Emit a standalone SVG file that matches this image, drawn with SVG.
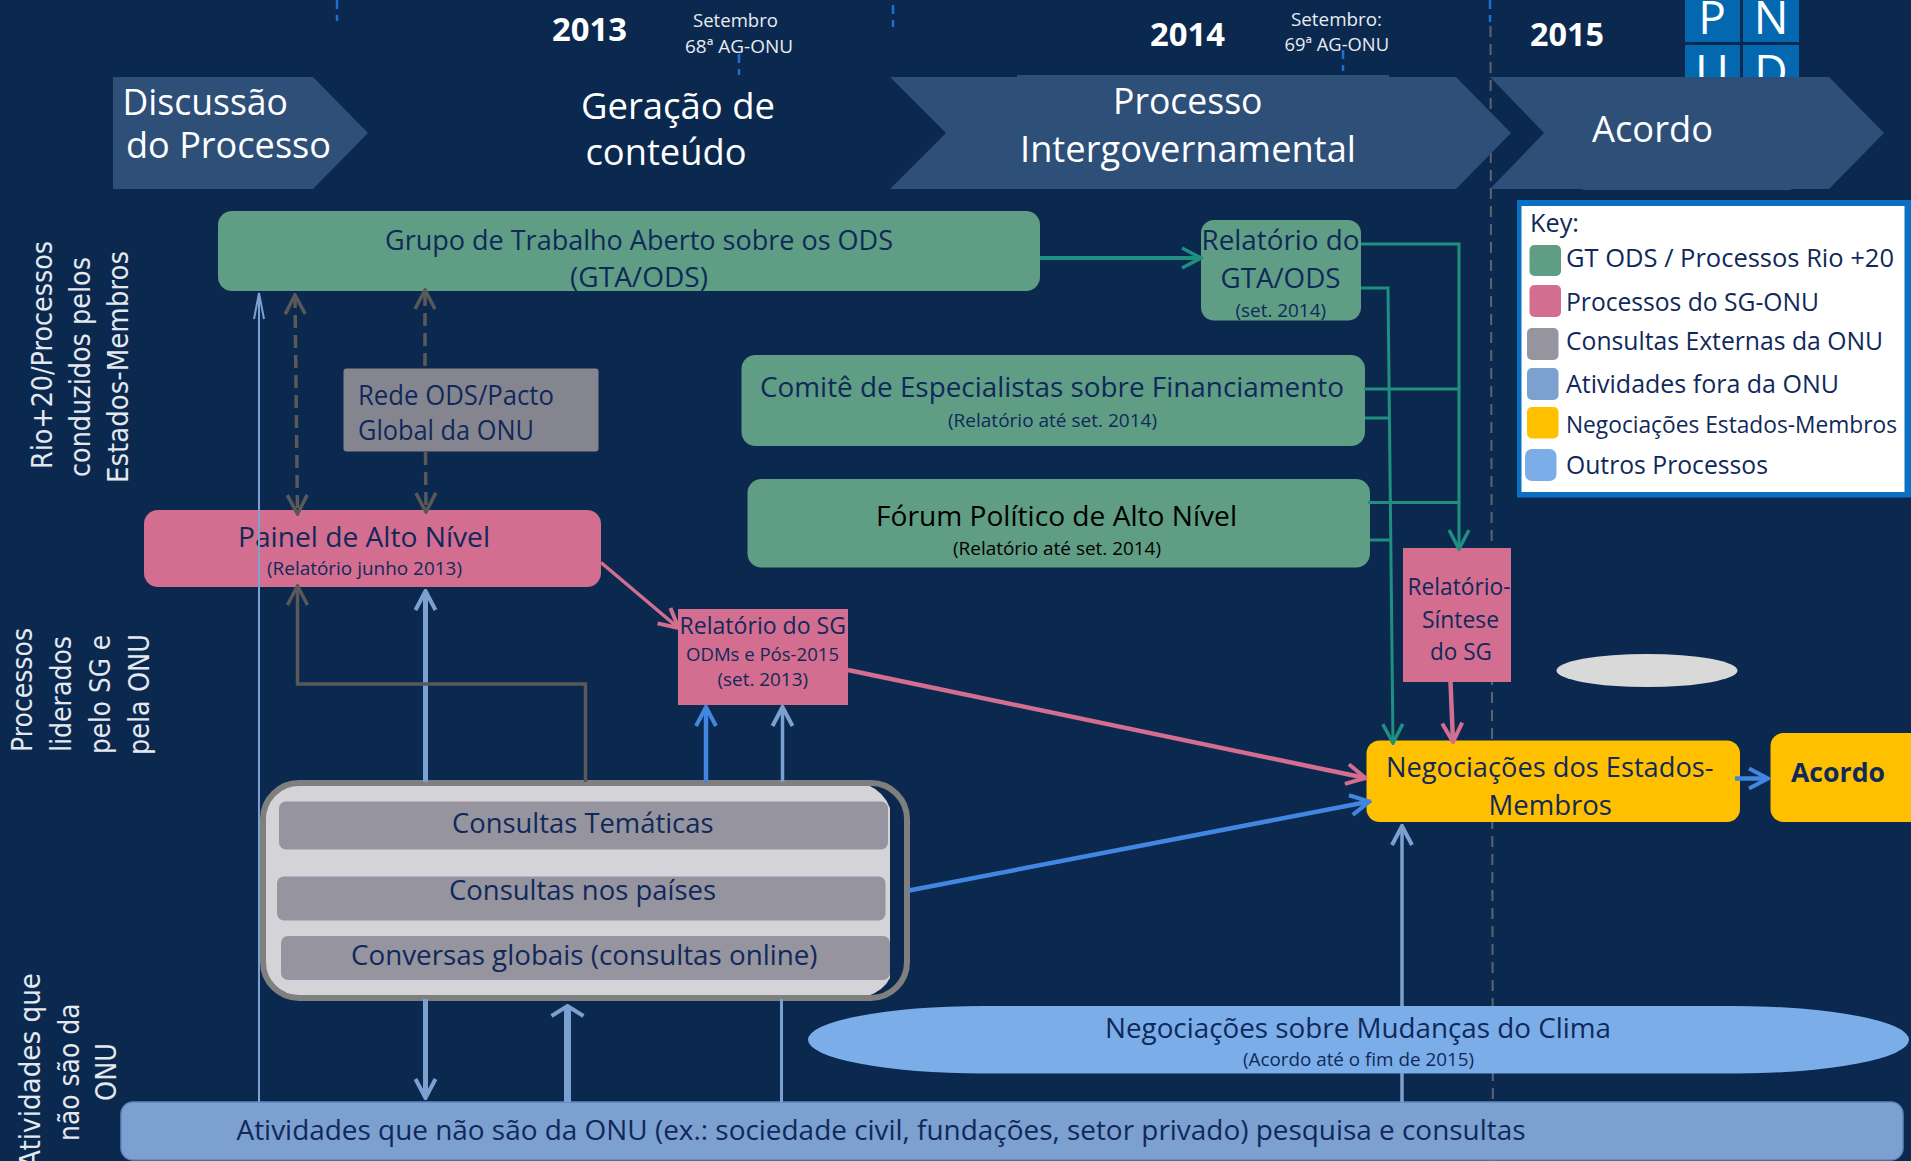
<svg xmlns="http://www.w3.org/2000/svg" width="1911" height="1161" viewBox="0 0 1911 1161">
<defs>
<style>
text{font-family:"Open Sans","Noto Sans",sans-serif;fill:#10295a}
.w{fill:#fff}.b{font-weight:700}.k{fill:#000}
.c{font-size:36px}.y{font-size:32px}.s{font-size:19px;fill:#e8ecf2}
.m{font-size:28px}.n{font-size:27px}.f{font-size:19px}.t{font-size:18px}
.v{font-family:"DejaVu Sans",sans-serif;font-size:29px;fill:#e4e8ef}
.leg{font-size:26px}
.gr{fill:#5f9d84}.pk{fill:#d36e90}.gy{fill:#95949f}.bl{fill:#7ca0cf}.ye{fill:#ffc000}.lb{fill:#7bade9}.ch{fill:#2e4f78}
.lnk{fill:none}
.teal{stroke:#1f8f7f;stroke-width:3}
.pink{stroke:#d36e90;stroke-width:4.5}
.blue{stroke:#4186e0;stroke-width:4.5}
.sl{stroke:#7ca0cf;stroke-width:5}
.dk{stroke:#595959;stroke-width:3.5}
.da{stroke-dasharray:13 7}
</style>
<marker id="aT" markerUnits="userSpaceOnUse" viewBox="0 0 24 24" refX="22" refY="12" markerWidth="24" markerHeight="24" orient="auto-start-reverse"><path d="M3 2L22 12L3 22" fill="none" stroke="#1f8f7f" stroke-width="3.5"/></marker>
<marker id="aP" markerUnits="userSpaceOnUse" viewBox="0 0 24 24" refX="22" refY="12" markerWidth="24" markerHeight="24" orient="auto-start-reverse"><path d="M3 2L22 12L3 22" fill="none" stroke="#d36e90" stroke-width="4"/></marker>
<marker id="aB" markerUnits="userSpaceOnUse" viewBox="0 0 24 24" refX="22" refY="12" markerWidth="24" markerHeight="24" orient="auto-start-reverse"><path d="M3 2L22 12L3 22" fill="none" stroke="#4186e0" stroke-width="4"/></marker>
<marker id="aS" markerUnits="userSpaceOnUse" viewBox="0 0 24 24" refX="22" refY="12" markerWidth="24" markerHeight="24" orient="auto-start-reverse"><path d="M3 2L22 12L3 22" fill="none" stroke="#7ca0cf" stroke-width="4"/></marker>
<marker id="aD" markerUnits="userSpaceOnUse" viewBox="0 0 24 24" refX="22" refY="12" markerWidth="24" markerHeight="24" orient="auto-start-reverse"><path d="M3 2L22 12L3 22" fill="none" stroke="#595959" stroke-width="3.5"/></marker>
<marker id="aW" markerUnits="userSpaceOnUse" viewBox="0 0 16 36" refX="14" refY="18" markerWidth="16" markerHeight="36" orient="auto"><path d="M4 2L14 18L4 34" fill="none" stroke="#7ca0cf" stroke-width="4"/></marker>
<marker id="aN" markerUnits="userSpaceOnUse" viewBox="0 0 30 12" refX="28" refY="6" markerWidth="30" markerHeight="12" orient="auto"><path d="M2 1L28 6L2 11" fill="none" stroke="#7ca0cf" stroke-width="2"/></marker>
</defs>

<rect width="1911" height="1161" fill="#0b294f"/>

<g id="timeline" fill="none">
<path d="M337 0V21M893 5V27M739 54V75M1343 50V71M1490 0V22" stroke="#1f6fd0" stroke-width="2.5" stroke-dasharray="9 6"/>
<path d="M1490.500 26L1493 1161" stroke="#5c6470" stroke-width="2" stroke-dasharray="11 7"/>
</g>

<g id="logo">
<rect x="1685" y="-10" width="55" height="52" fill="#0468b1"/><rect x="1743" y="-10" width="56" height="52" fill="#0468b1"/>
<rect x="1685" y="45" width="55" height="40" fill="#0468b1"/><rect x="1743" y="45" width="56" height="40" fill="#0468b1"/>
<text x="1712" y="34" text-anchor="middle" class="w" font-size="46">P</text><text x="1771" y="34" text-anchor="middle" class="w" font-size="46">N</text>
<text x="1712" y="88" text-anchor="middle" class="w" font-size="46">U</text><text x="1771" y="88" text-anchor="middle" class="w" font-size="46">D</text>
</g>

<g id="headers">
<text x="552" y="41" class="b y w" textLength="75" lengthAdjust="spacingAndGlyphs">2013</text>
<text x="1150" y="46" class="b y w" textLength="75" lengthAdjust="spacingAndGlyphs">2014</text>
<text x="1530" y="46" class="b y w" textLength="74" lengthAdjust="spacingAndGlyphs">2015</text>
<text x="693" y="27" class="s" textLength="85" lengthAdjust="spacingAndGlyphs">Setembro</text>
<text x="685" y="53" class="s" textLength="108" lengthAdjust="spacingAndGlyphs">68ª AG-ONU</text>
<text x="1291" y="25.500" class="s" textLength="91" lengthAdjust="spacingAndGlyphs">Setembro:</text>
<text x="1284.500" y="51" class="s" textLength="104.500" lengthAdjust="spacingAndGlyphs">69ª AG-ONU</text>
</g>

<g id="phase-discussao">
<path class="ch" d="M113 77H313L368 133L313 189H113Z"/>
<text x="122.500" y="115" class="c w" textLength="165.500" lengthAdjust="spacingAndGlyphs">Discussão</text>
<text x="126" y="157.500" class="c w" textLength="205" lengthAdjust="spacingAndGlyphs">do Processo</text>
</g>
<g id="phase-geracao">
<text x="581" y="118.500" class="c w" textLength="194" lengthAdjust="spacingAndGlyphs">Geração de</text>
<text x="585.500" y="164.500" class="c w" textLength="161" lengthAdjust="spacingAndGlyphs">conteúdo</text>
</g>
<g id="phase-intergov">
<path class="ch" d="M890 77H1017V75H1389V77H1456L1511 133L1456 189H890L946 133Z"/>
<text x="1113" y="113.500" class="c w" textLength="149.500" lengthAdjust="spacingAndGlyphs">Processo</text>
<text x="1020" y="161.500" class="c w" textLength="336" lengthAdjust="spacingAndGlyphs">Intergovernamental</text>
</g>
<g id="phase-acordo">
<path class="ch" d="M1490 77H1829L1884 133L1829 189H1791V190H1583V189H1490L1544 133Z"/>
<text x="1592" y="141.500" class="c w" textLength="121" lengthAdjust="spacingAndGlyphs">Acordo</text>
</g>

<g id="axis-labels">
<text class="v" transform="translate(52 469) rotate(-90)" textLength="228" lengthAdjust="spacingAndGlyphs">Rio+20/Processos</text>
<text class="v" transform="translate(90 477) rotate(-90)" textLength="220" lengthAdjust="spacingAndGlyphs">conduzidos pelos</text>
<text class="v" transform="translate(127.500 483) rotate(-90)" textLength="232" lengthAdjust="spacingAndGlyphs">Estados-Membros</text>
<text class="v" transform="translate(32 752) rotate(-90)" textLength="124" lengthAdjust="spacingAndGlyphs">Processos</text>
<text class="v" transform="translate(70.500 752) rotate(-90)" textLength="116" lengthAdjust="spacingAndGlyphs">liderados</text>
<text class="v" transform="translate(110 754) rotate(-90)" textLength="119" lengthAdjust="spacingAndGlyphs">pelo SG e</text>
<text class="v" transform="translate(149 755) rotate(-90)" textLength="121" lengthAdjust="spacingAndGlyphs">pela ONU</text>
<text class="v" transform="translate(40 1168) rotate(-90)" textLength="195" lengthAdjust="spacingAndGlyphs">Atividades que</text>
<text class="v" transform="translate(78.500 1141) rotate(-90)" textLength="137.500" lengthAdjust="spacingAndGlyphs">não são da</text>
<text class="v" transform="translate(116 1101) rotate(-90)" textLength="58" lengthAdjust="spacingAndGlyphs">ONU</text>
</g>

<g id="gta-ods">
<rect class="gr" x="218" y="211" width="822" height="80" rx="14"/>
<text x="385" y="250" class="m" textLength="508" lengthAdjust="spacingAndGlyphs">Grupo de Trabalho Aberto sobre os ODS</text>
<text x="570" y="287" class="m" textLength="138" lengthAdjust="spacingAndGlyphs">(GTA/ODS)</text>
</g>
<g id="rede-ods">
<rect x="343.500" y="368.500" width="255" height="83" rx="3" fill="#85858f"/>
<text x="358" y="405" class="n" textLength="196" lengthAdjust="spacingAndGlyphs">Rede ODS/Pacto</text>
<text x="358" y="440" class="n" textLength="176" lengthAdjust="spacingAndGlyphs">Global da ONU</text>
</g>
<g id="comite">
<rect class="gr" x="741.500" y="355" width="623.500" height="91" rx="14"/>
<text x="760" y="397" class="m" textLength="584" lengthAdjust="spacingAndGlyphs">Comitê de Especialistas sobre Financiamento</text>
<text x="948" y="427" class="f" textLength="209" lengthAdjust="spacingAndGlyphs">(Relatório até set. 2014)</text>
</g>
<g id="forum">
<rect class="gr" x="747.500" y="479" width="622.500" height="88.500" rx="14"/>
<text x="876" y="526" class="m k" textLength="361" lengthAdjust="spacingAndGlyphs">Fórum Político de Alto Nível</text>
<text x="953" y="555" class="f k" textLength="208" lengthAdjust="spacingAndGlyphs">(Relatório até set. 2014)</text>
</g>
<g id="relatorio-gta">
<rect class="gr" x="1201" y="220" width="160" height="100.500" rx="13"/>
<text x="1201.500" y="250" class="m" textLength="158" lengthAdjust="spacingAndGlyphs">Relatório do</text>
<text x="1220.500" y="288" class="m" textLength="120" lengthAdjust="spacingAndGlyphs">GTA/ODS</text>
<text x="1235.500" y="317" class="t" textLength="90.500" lengthAdjust="spacingAndGlyphs">(set. 2014)</text>
</g>
<g id="painel">
<rect class="pk" x="144" y="510" width="457" height="77" rx="14"/>
<text x="238" y="546.500" class="n" textLength="252" lengthAdjust="spacingAndGlyphs">Painel de Alto Nível</text>
<text x="267" y="575" class="f" textLength="195" lengthAdjust="spacingAndGlyphs">(Relatório junho 2013)</text>
</g>
<g id="relatorio-sg">
<rect class="pk" x="678" y="609" width="170" height="96"/>
<text x="679.500" y="634" font-size="23" textLength="166.500" lengthAdjust="spacingAndGlyphs">Relatório do SG</text>
<text x="686" y="661" font-size="18" textLength="153" lengthAdjust="spacingAndGlyphs">ODMs e Pós-2015</text>
<text x="717.500" y="685.500" class="t" textLength="90.500" lengthAdjust="spacingAndGlyphs">(set. 2013)</text>
</g>
<g id="relatorio-sintese">
<rect class="pk" x="1403" y="548" width="108" height="134"/>
<text x="1407.500" y="595" font-size="23" textLength="103" lengthAdjust="spacingAndGlyphs">Relatório-</text>
<text x="1422" y="627.500" font-size="23" textLength="77" lengthAdjust="spacingAndGlyphs">Síntese</text>
<text x="1430" y="659.500" font-size="23" textLength="62" lengthAdjust="spacingAndGlyphs">do SG</text>
</g>
<g id="elipse-cinza"><ellipse cx="1647" cy="670.500" rx="90.500" ry="16.500" fill="#d9d9d9"/></g>
<g id="negociacoes">
<rect class="ye" x="1366.500" y="740.500" width="373.500" height="81.500" rx="13"/>
<text x="1386" y="776.500" class="n" textLength="327.500" lengthAdjust="spacingAndGlyphs">Negociações dos Estados-</text>
<text x="1488.500" y="814.500" class="n" textLength="123.500" lengthAdjust="spacingAndGlyphs">Membros</text>
</g>
<g id="acordo">
<rect class="ye" x="1770.500" y="733" width="160" height="89" rx="13"/>
<text x="1791" y="781.500" class="n b" textLength="94" lengthAdjust="spacingAndGlyphs">Acordo</text>
</g>
<g id="clima">
<rect class="lb" x="808" y="1006" width="1101" height="67.500" rx="175" ry="33.750"/>
<text x="1105" y="1037.500" class="n" textLength="506" lengthAdjust="spacingAndGlyphs">Negociações sobre Mudanças do Clima</text>
<text x="1243" y="1066" class="t" textLength="231" lengthAdjust="spacingAndGlyphs">(Acordo até o fim de 2015)</text>
</g>
<g id="atividades">
<rect class="bl" x="121" y="1102" width="1782" height="58" rx="12" stroke="#5f86ba" stroke-width="1.500"/>
<text x="236.500" y="1139.500" class="n" textLength="1289" lengthAdjust="spacingAndGlyphs">Atividades que não são da ONU (ex.: sociedade civil, fundações, setor privado) pesquisa e consultas</text>
</g>
<g id="consultas">
<path d="M299 785H868Q884 792 890 808V978Q884 990 868 996H299Q265 996 265 960V821Q265 785 299 785Z" fill="#d4d3d8"/>
<rect x="263" y="783" width="644" height="215" rx="36" fill="none" stroke="#7f7f7f" stroke-width="6"/>
<rect class="gy" x="279" y="801.500" width="609" height="48" rx="7"/>
<rect class="gy" x="277" y="876.500" width="608.500" height="44" rx="7"/>
<rect class="gy" x="281" y="936" width="609" height="44" rx="7"/>
<text x="452" y="832.500" class="m" textLength="261.500" lengthAdjust="spacingAndGlyphs">Consultas Temáticas</text>
<text x="449" y="899.500" class="m" textLength="267" lengthAdjust="spacingAndGlyphs">Consultas nos países</text>
<text x="351" y="965" class="m" textLength="466.500" lengthAdjust="spacingAndGlyphs">Conversas globais (consultas online)</text>
</g>
<g id="key">
<rect x="1517" y="200" width="394" height="297.500" fill="#0b6fc2"/>
<rect x="1521.500" y="206" width="383" height="286" fill="#fff"/>
<text x="1530" y="231.500" class="leg" textLength="49" lengthAdjust="spacingAndGlyphs">Key:</text>
<rect class="gr" x="1529.500" y="245" width="31.500" height="31" rx="5"/>
<rect class="pk" x="1529.500" y="285" width="31.500" height="32" rx="5"/>
<rect class="gy" x="1527" y="328" width="31.500" height="32" rx="5"/>
<rect class="bl" x="1527" y="368" width="31.500" height="32" rx="5"/>
<rect class="ye" x="1527" y="407" width="31.500" height="31.500" rx="5"/>
<rect class="lb" x="1525" y="449" width="31.500" height="32" rx="7"/>
<text x="1566" y="267" class="leg" textLength="328" lengthAdjust="spacingAndGlyphs">GT ODS / Processos Rio +20</text>
<text x="1566" y="311" class="leg" textLength="253" lengthAdjust="spacingAndGlyphs">Processos do SG-ONU</text>
<text x="1566" y="350" class="leg" textLength="317" lengthAdjust="spacingAndGlyphs">Consultas Externas da ONU</text>
<text x="1566" y="393" class="leg" textLength="273" lengthAdjust="spacingAndGlyphs">Atividades fora da ONU</text>
<text x="1566" y="433" font-size="24" textLength="331" lengthAdjust="spacingAndGlyphs">Negociações Estados-Membros</text>
<text x="1566" y="474" class="leg" textLength="202" lengthAdjust="spacingAndGlyphs">Outros Processos</text>
</g>

<g id="connectors" class="lnk">
<path class="sl" style="stroke-width:2" d="M259 1102V293" marker-end="url(#aN)"/>
<path class="sl" d="M425.500 782V591" marker-end="url(#aS)"/>
<path class="sl" d="M425.500 999V1098" marker-end="url(#aS)"/>
<path class="sl" style="stroke-width:7" d="M567.500 1102V1006" marker-end="url(#aW)"/>
<path class="sl" style="stroke-width:3" d="M781.500 999V1102"/>
<path class="sl" style="stroke-width:3.500" d="M782.500 782V707" marker-end="url(#aS)"/>
<path class="blue" d="M706 782V707" marker-end="url(#aB)"/>
<path class="sl" style="stroke-width:3.500" d="M1402 1102V1073"/>
<path class="sl" style="stroke-width:3.500" d="M1402 1006V826" marker-end="url(#aS)"/>
<path class="dk da" d="M295 295L297.500 514" marker-start="url(#aD)" marker-end="url(#aD)"/>
<path class="dk da" d="M425 366V290" marker-end="url(#aD)"/>
<path class="dk da" d="M425.500 452L426 512" marker-end="url(#aD)"/>
<path class="dk" d="M585.500 782V684H297.500V586" marker-end="url(#aD)"/>
<path class="teal" style="stroke-width:4" d="M1040 258H1201" marker-end="url(#aT)"/>
<path class="teal" d="M1361 244H1459V549" marker-end="url(#aT)"/>
<path class="teal" d="M1364 389H1459M1368 502.500H1459"/>
<path class="teal" d="M1361 288H1388L1393 743" marker-end="url(#aT)"/>
<path class="teal" d="M1365 418H1389M1370 540H1390"/>
<path class="pink" style="stroke-width:3.500" d="M601 562.500L678.500 628" marker-end="url(#aP)"/>
<path class="pink" d="M848 670L1365.500 778" marker-end="url(#aP)"/>
<path class="pink" d="M1450.500 682L1453 742" marker-end="url(#aP)"/>
<path class="blue" d="M909 890.500L1369.500 801.500" marker-end="url(#aB)"/>
<path class="blue" d="M1735 778.500H1768" marker-end="url(#aB)"/>
</g>
</svg>
